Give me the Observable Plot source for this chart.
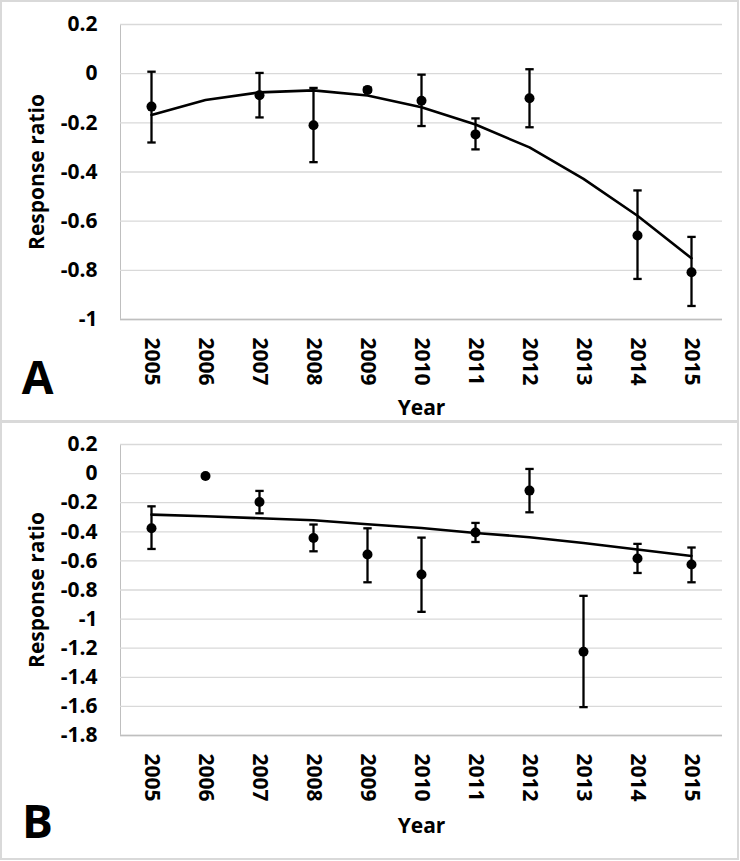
<!DOCTYPE html>
<html>
<head>
<meta charset="utf-8">
<script src="https://cdn.jsdelivr.net/npm/d3@7"></script>
<script src="https://cdn.jsdelivr.net/npm/@observablehq/plot@0.6"></script>
<style>
  html, body { margin: 0; padding: 0; background: #fff; }
  #wrap { position: relative; width: 740px; height: 861px; overflow: hidden; background: #fff; }
  .panel { position: absolute; left: 0; width: 739px; box-sizing: border-box; border: 2px solid #d9d9d9; }
  #pA { top: 0; height: 422px; }
  #pB { top: 421px; height: 439px; }
  .chart { position: absolute; left: 0; }
  #cA { top: 0; }
  #cB { top: 421px; }
  .chart svg text { fill: #000; }
</style>
</head>
<body>
<div id="wrap">
  <div class="panel" id="pA"></div>
  <div class="panel" id="pB"></div>
  <div class="chart" id="cA"></div>
  <div class="chart" id="cB"></div>
</div>
<script>
const years = [2005, 2006, 2007, 2008, 2009, 2010, 2011, 2012, 2013, 2014, 2015];

// Panel A
const aMean  = [-0.134, null, -0.088, -0.210, -0.066, -0.110, -0.247, -0.100, null, -0.658, -0.808];
const aUpper = [ 0.008, null,  0.003, -0.058, -0.058, -0.004, -0.182,  0.018, null, -0.475, -0.664];
const aLower = [-0.280, null, -0.178, -0.360, -0.074, -0.213, -0.308, -0.218, null, -0.835, -0.945];
const aTrend = [-0.168, -0.107, -0.076, -0.068, -0.089, -0.137, -0.207, -0.300, -0.428, -0.578, -0.751];
const aTicks = [0.2, 0, -0.2, -0.4, -0.6, -0.8, -1];

// Panel B
const bMean  = [-0.376, -0.016, -0.195, -0.442, -0.556, -0.694, -0.405, -0.117, -1.225, -0.584, -0.625];
const bUpper = [-0.225, null, -0.119, -0.350, -0.376, -0.440, -0.339,  0.032, -0.840, -0.483, -0.508];
const bLower = [-0.518, null, -0.273, -0.534, -0.747, -0.950, -0.470, -0.266, -1.605, -0.683, -0.747];
const bTrend = [-0.282, -0.293, -0.307, -0.321, -0.348, -0.374, -0.408, -0.437, -0.477, -0.522, -0.566];
const bTicks = [0.2, 0, -0.2, -0.4, -0.6, -0.8, -1, -1.2, -1.4, -1.6, -1.8];

const fmt = d => String(Math.round(d * 10) / 10);

// horizontal-dash symbol for error bar caps
const capSymbol = {
  draw(context, size) {
    const w = Math.sqrt(size / Math.PI);
    context.moveTo(-w, 0);
    context.lineTo(w, 0);
  }
};

function panel({mean, upper, lower, trend, ticks, height, mt, mb, letter, letterDy, yearDy}) {
  const rows = years.map((yr, i) => ({year: yr, mean: mean[i], upper: upper[i], lower: lower[i], trend: trend[i]}));
  const pts = rows.filter(d => d.mean != null);
  const bars = rows.filter(d => d.upper != null && d.lower != null);
  const lo = ticks[ticks.length - 1], hi = ticks[0];
  return Plot.plot({
    width: 740,
    height,
    marginTop: mt,
    marginBottom: mb,
    marginLeft: 120,
    marginRight: 18,
    style: {fontFamily: "'Open Sans', sans-serif", fontSize: "21px", fontWeight: "bold", color: "#bfbfbf", background: "transparent", overflow: "visible"},
    x: {type: "point", domain: years, padding: 0.5, tickRotate: 90, tickSize: 0, tickPadding: 18, tickFormat: d => String(d), label: null},
    y: {domain: [lo, hi], ticks, tickFormat: fmt, tickSize: 0, tickPadding: 23, label: null, line: true},
    marks: [
      Plot.ruleY(ticks, {stroke: "#d9d9d9", strokeWidth: 1.3}),
      Plot.ruleY([lo], {stroke: "#bfbfbf", strokeWidth: 1.5}),
      Plot.line(rows, {x: "year", y: "trend", stroke: "#000", strokeWidth: 2.6}),
      Plot.ruleX(bars, {x: "year", y1: "lower", y2: "upper", stroke: "#000", strokeWidth: 2.3}),
      Plot.dot(bars, {x: "year", y: "upper", symbol: capSymbol, r: 4.2, fill: "none", stroke: "#000", strokeWidth: 2.3}),
      Plot.dot(bars, {x: "year", y: "lower", symbol: capSymbol, r: 4.2, fill: "none", stroke: "#000", strokeWidth: 2.3}),
      Plot.dot(pts, {x: "year", y: "mean", r: 5, fill: "#000", stroke: "none"}),
      Plot.text(["Response ratio"], {text: d => d, frameAnchor: "left", textAnchor: "middle", dx: -83, rotate: -90, fontSize: 21, fontWeight: "bold", fill: "#000"}),
      Plot.text(["Year"], {text: d => d, frameAnchor: "bottom", textAnchor: "middle", dy: yearDy, fontSize: 21, fontWeight: "bold", fill: "#000"}),
      Plot.text([letter], {text: d => d, frameAnchor: "bottom-left", textAnchor: "middle", dx: -83, dy: letterDy, fontSize: 46, fontWeight: "bold", fill: "#000"})
    ]
  });
}

document.getElementById("cA").append(panel({
  mean: aMean, upper: aUpper, lower: aLower, trend: aTrend, ticks: aTicks,
  height: 421, mt: 24, mb: 102, letter: "A", letterDy: 74, yearDy: 95
}));
document.getElementById("cB").append(panel({
  mean: bMean, upper: bUpper, lower: bLower, trend: bTrend, ticks: bTicks,
  height: 440, mt: 23, mb: 126, letter: "B", letterDy: 102, yearDy: 97
}));
</script>
</body>
</html>
